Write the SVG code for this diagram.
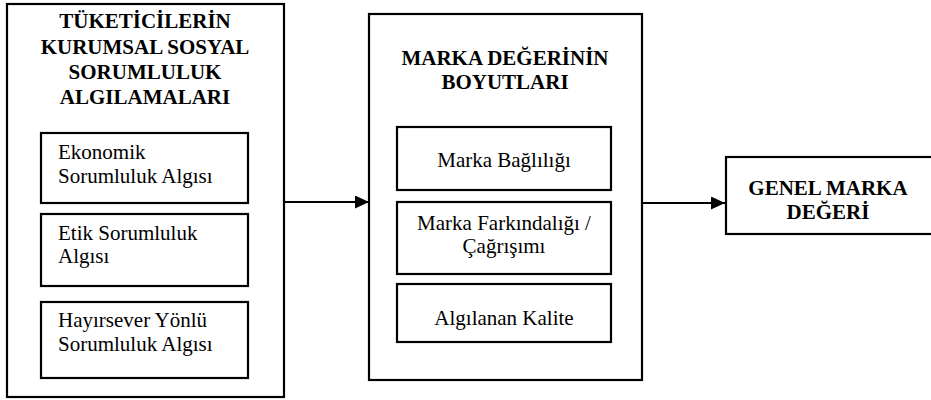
<svg xmlns="http://www.w3.org/2000/svg" width="931" height="400" viewBox="0 0 931 400" font-family="Liberation Serif, Times New Roman, DejaVu Serif, serif">
<style>
.box{fill:#fff;stroke:#000;stroke-width:2.2}
.t{font-size:21px;fill:#000}
.b{font-weight:bold}
.c{text-anchor:middle}
.ln{stroke:#000;stroke-width:2;fill:none}
</style>
<defs>
<marker id="ah" viewBox="0 0 14 13" refX="14" refY="6.5" markerWidth="14" markerHeight="13" markerUnits="userSpaceOnUse" orient="auto">
<path d="M0,0 L14,6.5 L0,13 Z" fill="#000"/>
</marker>
</defs>
<g id="node-kss">
<rect class="box" x="7" y="4" width="277" height="393"/>
<text class="t b c" x="145" y="28" font-family="Liberation Serif, serif">TÜKETİCİLERİN</text>
<text class="t b c" x="145" y="54" font-family="Liberation Serif, serif">KURUMSAL SOSYAL</text>
<text class="t b c" x="145" y="79" font-family="Liberation Serif, serif">SORUMLULUK</text>
<text class="t b c" x="145" y="104" font-family="Liberation Serif, serif">ALGILAMALARI</text>
</g>
<g id="node-ekonomik">
<rect class="box" x="41" y="133" width="207" height="70"/>
<text class="t" x="58" y="159" font-family="Liberation Serif, serif">Ekonomik</text>
<text class="t" x="58" y="183" font-family="Liberation Serif, serif">Sorumluluk Algısı</text>
</g>
<g id="node-etik">
<rect class="box" x="41" y="214" width="207" height="72"/>
<text class="t" x="58" y="240" font-family="Liberation Serif, serif">Etik Sorumluluk</text>
<text class="t" x="58" y="263" font-family="Liberation Serif, serif">Algısı</text>
</g>
<g id="node-hayirsever">
<rect class="box" x="41" y="302" width="207" height="76"/>
<text class="t" x="58" y="327" font-family="Liberation Serif, serif">Hayırsever Yönlü</text>
<text class="t" x="58" y="351" font-family="Liberation Serif, serif">Sorumluluk Algısı</text>
</g>
<g id="node-boyutlar">
<rect class="box" x="369" y="14" width="273" height="366"/>
<text class="t b c" x="505" y="65" font-family="Liberation Serif, serif">MARKA DEĞERİNİN</text>
<text class="t b c" x="505" y="89" font-family="Liberation Serif, serif">BOYUTLARI</text>
</g>
<g id="node-baglilik">
<rect class="box" x="397" y="127" width="214" height="63"/>
<text class="t c" x="504" y="167" font-family="Liberation Serif, serif">Marka Bağlılığı</text>
</g>
<g id="node-farkindalik">
<rect class="box" x="397" y="202" width="214" height="72"/>
<text class="t c" x="504" y="230" font-family="Liberation Serif, serif">Marka Farkındalığı /</text>
<text class="t c" x="504" y="253" font-family="Liberation Serif, serif">Çağrışımı</text>
</g>
<g id="node-kalite">
<rect class="box" x="397" y="284" width="214" height="58"/>
<text class="t c" x="504" y="325" font-family="Liberation Serif, serif">Algılanan Kalite</text>
</g>
<g id="node-genel">
<rect class="box" x="726" y="157" width="215" height="77"/>
<text class="t b c" x="828" y="195" font-family="Liberation Serif, serif">GENEL MARKA</text>
<text class="t b c" x="828" y="219" font-family="Liberation Serif, serif">DEĞERİ</text>
</g>
<g id="connectors">
<line class="ln" x1="284" y1="202" x2="369" y2="202" marker-end="url(#ah)"/>
<line class="ln" x1="642" y1="203" x2="725" y2="203" marker-end="url(#ah)"/>
</g>
</svg>
